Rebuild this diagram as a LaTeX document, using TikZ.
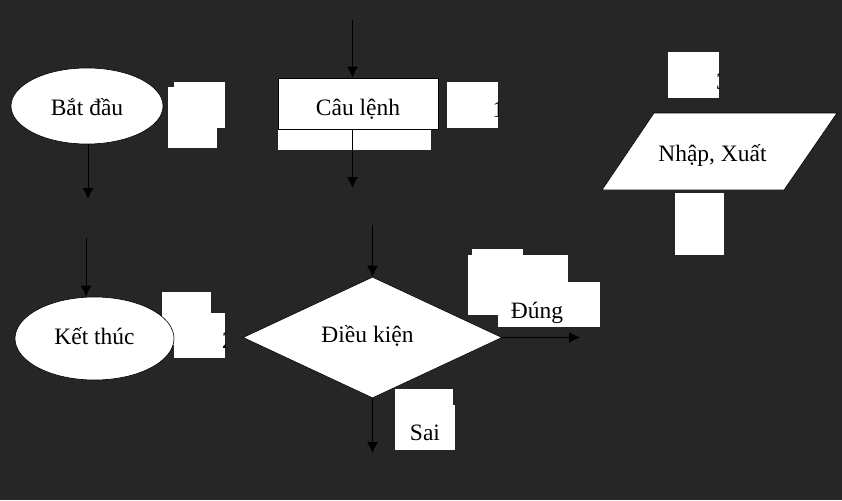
\documentclass[tikz,border=0pt]{standalone}
\usepackage{fontspec}
\setmainfont{Liberation Serif}
\usetikzlibrary{shapes.geometric,arrows.meta}
\definecolor{bg}{HTML}{262626}
% text set lower than the centre of its shape, with no height of its own
\newcommand{\lowtext}[2]{\raisebox{-#1}[0pt][0pt]{#2}}

\begin{document}
\begin{tikzpicture}[x=1pt, y=-1pt,
    font=\fontsize{23.5}{28}\selectfont,
    term/.style={ellipse, draw=black, fill=white, line width=0.6pt, inner sep=0pt},
    proc/.style={rectangle, draw=black, fill=white, line width=0.8pt,
      minimum width=160pt, minimum height=51pt},
    cond/.style={diamond, draw=black, fill=white, line width=0.6pt,
      minimum width=259pt, minimum height=121pt, inner sep=0pt},
    digit/.style={anchor=west, inner sep=0pt},
    patch/.style={fill=white},
    arr/.style={-{Latex[length=11pt,width=11pt]}, line width=0.8pt, black}]
  \fill[bg] (0,0) rectangle (842,500);
  \useasboundingbox (0,0) rectangle (842,500);

  % white boxes left over round the shapes
  \fill[patch] (174,82) rectangle (225,128);
  \fill[patch] (168,87) rectangle (217,148);
  \fill[patch] (278,129) rectangle (431,150);
  \fill[patch] (162,292) rectangle (211,345);
  \fill[patch] (675,193) rectangle (724,255);
  \fill[patch] (472,249) rectangle (523,280);
  \fill[patch] (468,255) rectangle (568,315);
  \fill[patch] (498,282) rectangle (600,327);
  \fill[patch] (395,389) rectangle (453,450);
  \fill[patch] (395,405) rectangle (455,450);
  \begin{scope}
    \clip (447,82) rectangle (498,128);
    \fill[patch] (447,82) rectangle (498,128);
    \node (one) at (492.5,110) [digit] {1};
  \end{scope}
  \begin{scope}
    \clip (174,313) rectangle (225,358);
    \fill[patch] (174,313) rectangle (225,358);
    \node (two) at (222,341) [digit] {2};
  \end{scope}
  \begin{scope}
    \clip (668,52) rectangle (719,98);
    \fill[patch] (668,52) rectangle (719,98);
    \node (three) at (716,82) [digit] {3};
  \end{scope}

  % shapes
  \node (batdau) at (87,106) [term, minimum width=152pt, minimum height=76pt] {\lowtext{10pt}{Bắt đầu}};
  \node (ketthuc) at (94.5,338.5) [term, minimum width=159pt, minimum height=83pt] {\lowtext{5.5pt}{Kết thúc}};
  \node (caulenh) at (358,103.5) [proc] {\lowtext{12.5pt}{Câu lệnh}};
  \node (dieukien) at (372.5,337.5) [cond] {\lowtext{5pt}{\hspace{-10pt}Điều kiện}};
  \filldraw[fill=white, draw=black, line width=0.6pt]
    (654,113) -- (837,113) -- (784,190) -- (602,190) -- cycle;
  \node (nhapxuat) at (712.5,161.5) [anchor=base] {Nhập, Xuất};
  \node (dung) at (537,318) [anchor=base] {Đúng};
  \node (sai) at (425,440.5) [anchor=base] {Sai};

  % arrows
  \coordinate (bdout) at (88,199);
  \coordinate (ktin) at (86,238);
  \coordinate (clin) at (352.5,20);
  \coordinate (clout) at (352.5,188);
  \coordinate (dkin) at (372.5,225);
  \coordinate (dkyes) at (580,337.5);
  \coordinate (dkno) at (372.5,453);
  \draw[arr] (batdau.south -| bdout) -- (bdout);
  \draw[arr] (ktin) -- (ktin |- ketthuc.north);
  \draw[arr] (clin) -- (clin |- caulenh.north);
  \draw[arr] (caulenh.south -| clout) -- (clout);
  \draw[arr] (dkin) -- (dieukien.north);
  \draw[arr] (dieukien.east) -- (dkyes);
  \draw[arr] (dieukien.south) -- (dkno);
\end{tikzpicture}
\end{document}
